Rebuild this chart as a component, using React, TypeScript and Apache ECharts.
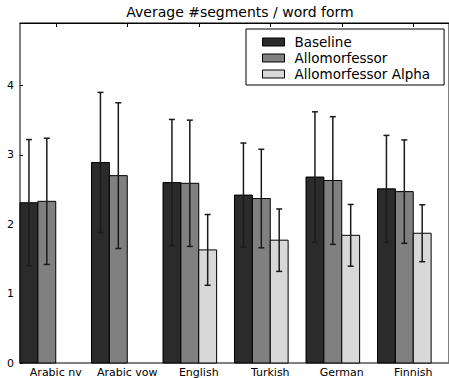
import React, { useEffect, useRef } from "react";
import * as echarts from "echarts";

const categories = ["Arabic nv", "Arabic vow", "English", "Turkish", "German", "Finnish"];
const seriesNames = ["Baseline", "Allomorfessor", "Allomorfessor Alpha"];
const seriesColors = ["#2b2b2b", "#808080", "#d8d8d8"];
const baselineMean = [2.31, 2.89, 2.6, 2.42, 2.68, 2.51];
const baselineErr = [0.91, 1.01, 0.91, 0.75, 0.94, 0.77];
const alloMean = [2.33, 2.7, 2.59, 2.37, 2.63, 2.47];
const alloErr = [0.91, 1.05, 0.91, 0.71, 0.92, 0.745];
const alphaMean = [null, null, 1.63, 1.77, 1.84, 1.87];
const alphaErr = [null, null, 0.51, 0.45, 0.445, 0.41];
const yTicks = [0, 1, 2, 3, 4];

const FONT = "DejaVu Sans";
const BAR_W = 0.25;

export default function App() {
  const ref = useRef<HTMLDivElement>(null);
  useEffect(() => {
    if (!ref.current) return;
    const chart = echarts.init(ref.current, undefined, { renderer: "svg" });
    const means = [baselineMean, alloMean, alphaMean];
    const errs = [baselineErr, alloErr, alphaErr];

    const series = seriesNames.map((name, k) => {
      const data: any[] = [];
      categories.forEach((_, i) => {
        const m = means[k][i];
        const e = errs[k][i];
        if (m != null && e != null) data.push([i + k * BAR_W, m, e]);
      });
      return {
        type: "custom",
        name,
        xAxisIndex: 0,
        yAxisIndex: 0,
        itemStyle: { color: seriesColors[k], borderColor: "#000", borderWidth: 1 },
        renderItem: (params: any, api: any) => {
          const x = api.value(0);
          const y = api.value(1);
          const e = api.value(2);
          const tl = api.coord([x, y]);
          const br = api.coord([x + BAR_W, 0]);
          const xc = (tl[0] + br[0]) / 2;
          const top = api.coord([x, y + e])[1];
          const bot = api.coord([x, y - e])[1];
          const cap = 3;
          const errStyle = { stroke: "#1a1a1a", lineWidth: 1.5 };
          return {
            type: "group",
            children: [
              {
                type: "rect",
                shape: { x: tl[0], y: tl[1], width: br[0] - tl[0], height: br[1] - tl[1] },
                style: { fill: seriesColors[k], stroke: "#000", lineWidth: 1 },
              },
              { type: "line", shape: { x1: xc, y1: top, x2: xc, y2: bot }, style: errStyle },
              { type: "line", shape: { x1: xc - cap, y1: top, x2: xc + cap, y2: top }, style: errStyle },
              { type: "line", shape: { x1: xc - cap, y1: bot, x2: xc + cap, y2: bot }, style: errStyle },
            ],
          };
        },
        data,
      };
    });

    chart.setOption({
      animation: false,
      backgroundColor: "#fff",
      textStyle: { fontFamily: FONT },
      grid: { left: 20, right: -9, top: 23, bottom: 14, show: true, borderColor: "#000", borderWidth: 1, backgroundColor: "transparent" },
      graphic: [
        {
          type: "text",
          x: 240,
          y: 12,
          style: {
            text: "Average #segments / word form",
            fontSize: 14,
            fontFamily: FONT,
            fill: "#000",
            textAlign: "center",
            textVerticalAlign: "middle",
          },
        },
      ],
      legend: {
        orient: "vertical",
        left: 246,
        top: 29,
        padding: [6, 14, 4, 16],
        itemWidth: 22,
        itemHeight: 8,
        itemGap: 2,
        icon: "rect",
        borderColor: "#000",
        borderWidth: 1,
        borderRadius: 0,
        backgroundColor: "#fff",
        textStyle: { fontSize: 13.5, fontFamily: FONT, color: "#000", padding: [0, 0, 0, 5] },
        data: seriesNames.map((n, k) => ({
          name: n,
          itemStyle: { color: seriesColors[k], borderColor: "#000", borderWidth: 1 },
        })),
      },
      xAxis: [
        { type: "value", min: 0, max: 6, show: false },
        {
          type: "category",
          data: categories,
          position: "bottom",
          boundaryGap: true,
          axisLine: { show: true, lineStyle: { color: "#808080", width: 1.5 } },
          axisTick: { show: false },
          axisLabel: { interval: 0, hideOverlap: false, fontSize: 11, fontFamily: FONT, color: "#000", margin: 4 },
          splitLine: { show: false },
        },
        {
          type: "category",
          data: categories,
          position: "top",
          boundaryGap: true,
          axisLine: { show: true, lineStyle: { color: "#000", width: 1 } },
          axisTick: { show: true, interval: 0, alignWithLabel: true, inside: true, length: 4, lineStyle: { color: "#000" } },
          axisLabel: { show: false, interval: 0 },
          splitLine: { show: false },
        },
      ],
      yAxis: {
        type: "value",
        min: 0,
        max: 4.9,
        interval: 1,
        axisLine: { show: true, lineStyle: { color: "#808080", width: 1.5 } },
        axisTick: { show: true, inside: true, length: 3, lineStyle: { color: "#000" } },
        axisLabel: {
          fontSize: 11,
          fontFamily: FONT,
          color: "#000",
          margin: 6,
          showMaxLabel: false,
          formatter: (v: number) => (yTicks.includes(v) ? String(v) : ""),
        },
        splitLine: { show: false },
      },
      series,
    });
    return () => chart.dispose();
  }, []);
  return <div ref={ref} style={{ width: 449, height: 378, position: "absolute", left: 0, top: 0 }} />;
}
